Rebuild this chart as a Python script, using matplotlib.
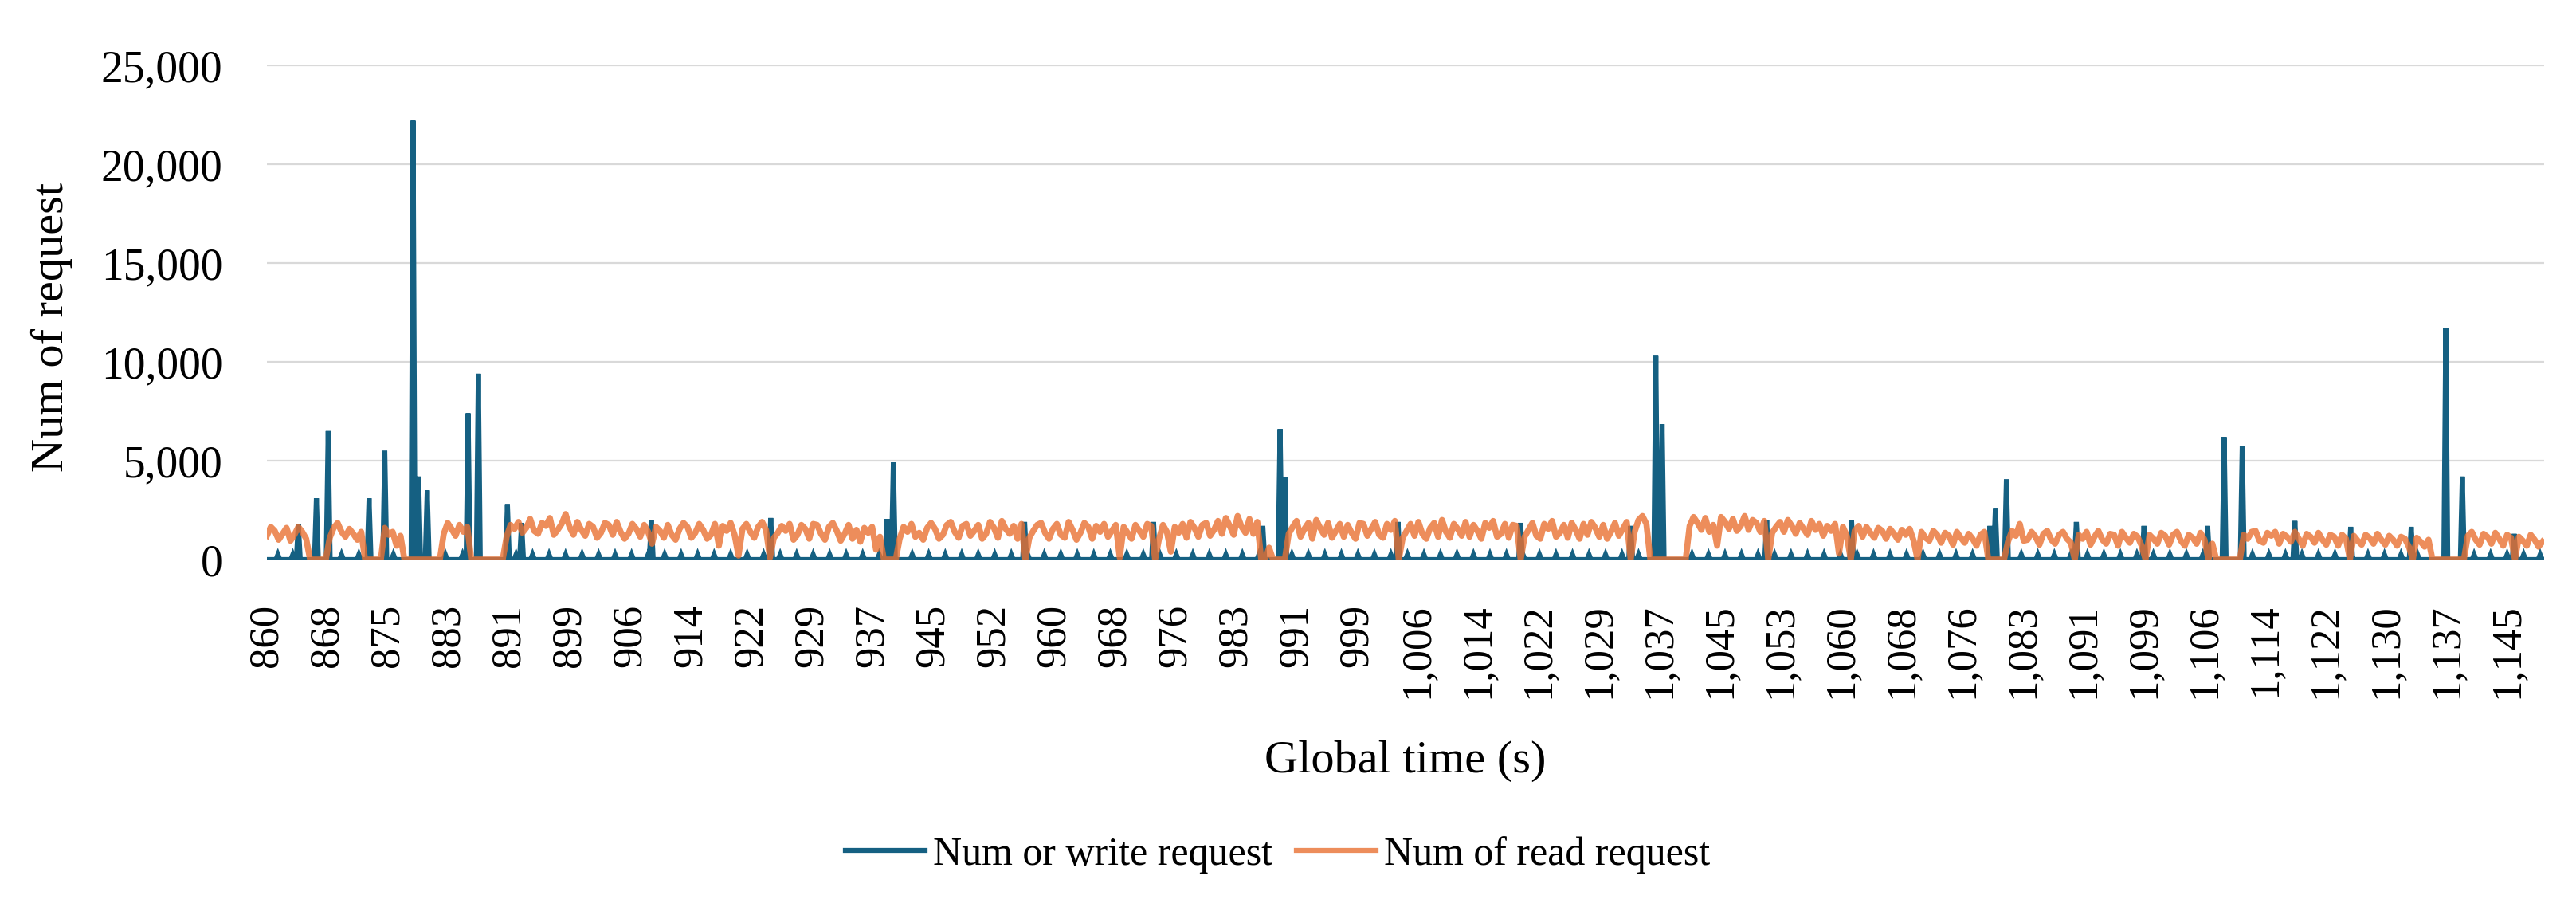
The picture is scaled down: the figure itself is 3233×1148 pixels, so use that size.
"""
Num of write / read requests over global time.
"""
import numpy as np
import matplotlib
matplotlib.use('Agg')
import matplotlib.pyplot as plt
from matplotlib.lines import Line2D
from matplotlib.ticker import FuncFormatter

plt.rcParams['font.family'] = ['Liberation Serif', 'DejaVu Serif']

# read requests, one value every 0.5 s from 860 s
read_start = 860.0
read_step = 0.5
read_vals = [
    1200, 1650, 1450, 1000, 1300, 1600, 950, 1250, 1650, 1400, 1050, 0, 0, 0, 0, 0, 1100, 1600, 1850, 1400,
    1150, 1550, 1300, 1000, 1400, 0, 0, 0, 0, 0, 1600, 1250, 1400, 700, 1200, 0, 0, 0, 0, 0,
    0, 0, 0, 0, 0, 1300, 1850, 1550, 1200, 1750, 1400, 1650, 0, 0, 0, 0, 0, 0, 0, 0,
    0, 1150, 1750, 1550, 1900, 1350, 1600, 2050, 1450, 1300, 1850, 1700, 2100, 1250, 1500, 1800, 2300, 1650, 1250, 1900,
    1500, 1200, 1800, 1650, 1100, 1350, 1850, 1750, 1250, 1900, 1400, 1050, 1300, 1800, 1550, 1150, 1750, 1400, 800, 1650,
    1450, 1100, 1750, 1250, 1000, 1550, 1850, 1650, 1100, 1350, 1800, 1500, 1050, 1250, 1800, 700, 1700, 1450, 1850, 1250,
    200, 1550, 1800, 1400, 1100, 1650, 1900, 1500, 100, 1100, 1350, 1700, 1450, 1800, 1000, 1250, 1750, 1550, 1050, 1800,
    1750, 1300, 1000, 1650, 1850, 1450, 950, 1300, 1750, 1050, 1500, 900, 1600, 1350, 1650, 500, 1150, 0, 0, 0,
    0, 1050, 1650, 1400, 1800, 1150, 1350, 1000, 1600, 1850, 1550, 1050, 1250, 1750, 1900, 1400, 1100, 1700, 1800, 1200,
    1450, 1750, 1050, 1300, 1900, 1600, 1100, 1950, 1550, 1300, 1700, 1050, 1800, 0, 1100, 1450, 1750, 1850, 1350, 1050,
    1550, 1800, 1250, 1100, 1900, 1500, 1000, 1350, 1850, 1650, 1050, 1700, 1400, 1800, 1150, 1450, 1750, 100, 1650, 1350,
    1050, 1750, 1450, 1150, 1800, 1700, 0, 1050, 1750, 1400, 400, 1650, 1350, 1800, 1100, 1900, 1600, 1150, 1750, 1850,
    1200, 1500, 1950, 1300, 2100, 1700, 1250, 2200, 1650, 1350, 2050, 1300, 1900, 0, 0, 600, 0, 0, 0, 0,
    1300, 1650, 1950, 1150, 1550, 1850, 1050, 2000, 1600, 1250, 1850, 1100, 1450, 1800, 1150, 1750, 1350, 1050, 1850, 1800,
    1200, 1550, 1900, 1250, 1100, 1800, 1500, 1950, 0, 1100, 1450, 1800, 1200, 1900, 1300, 1050, 1600, 1850, 1150, 2000,
    1400, 1100, 1800, 1550, 1200, 1900, 1150, 1750, 1450, 1050, 1850, 1600, 1950, 1150, 1300, 1800, 1100, 1750, 1700, 0,
    1150, 1500, 1850, 1200, 1050, 1800, 1550, 1950, 1150, 1350, 1750, 1100, 1850, 1500, 1050, 1800, 1250, 1900, 1600, 1150,
    1750, 1050, 1400, 1850, 1200, 1550, 1900, 0, 1400, 2000, 2200, 1800, 0, 0, 0, 0, 0, 0, 0, 0,
    0, 0, 1700, 2150, 1850, 1500, 2100, 1400, 1750, 700, 2150, 1900, 1550, 2050, 1450, 1700, 2200, 1500, 2000, 1850,
    1400, 1950, 0, 1350, 1650, 1900, 1400, 2000, 1700, 1300, 1850, 1550, 1250, 1950, 1500, 1800, 1200, 1700, 1450, 1800,
    300, 1650, 1200, 0, 1450, 1700, 1150, 1650, 1350, 1100, 1600, 1450, 1050, 1550, 1300, 1000, 1500, 1250, 1550, 950,
    0, 1400, 1100, 950, 1450, 1250, 850, 1350, 1200, 750, 1400, 1100, 850, 1300, 1050, 700, 1250, 1400, 0, 0,
    0, 0, 0, 900, 1450, 1200, 1800, 950, 1000, 1400, 1150, 750, 1300, 1450, 1000, 800, 1250, 1400, 1050, 850,
    0, 1250, 1050, 1400, 750, 1150, 1450, 1000, 800, 1300, 1250, 700, 1400, 1100, 850, 1300, 1150, 700, 0, 1250,
    1050, 800, 1350, 1200, 750, 1250, 1400, 950, 700, 1250, 1100, 800, 1350, 1000, 0, 800, 0, 0, 0, 0,
    0, 0, 0, 1250, 1050, 1400, 1450, 950, 850, 1350, 1200, 1400, 800, 1300, 1150, 900, 1400, 1050, 700, 1300,
    1150, 850, 1350, 1000, 750, 1250, 1150, 700, 1250, 1050, 0, 1200, 950, 750, 1250, 1100, 800, 1300, 1000, 750,
    1200, 1000, 700, 1150, 1050, 650, 0, 1100, 900, 650, 1000, 0, 0, 0, 0, 0, 0, 0, 0, 0,
    1200, 1400, 1000, 750, 1300, 1150, 800, 1350, 1050, 700, 1250, 1100, 0, 1150, 950, 700, 1250, 1000, 650, 900,
]

# write bursts: time (s) and num of requests
spike_t = [864.0, 866.3, 867.8, 873.0, 875.0, 878.6, 879.3, 880.4, 885.6, 886.9,
           890.6, 892.4, 908.9, 924.1, 938.9, 939.7, 956.4, 972.8, 986.7, 988.9,
           989.5, 1003.9, 1019.5, 1033.5, 1036.7, 1037.5, 1050.8, 1061.6, 1079.2, 1079.9,
           1081.3, 1090.2, 1098.8, 1106.9, 1109.0, 1111.3, 1118.0, 1125.1, 1132.8, 1137.2,
           1139.3, 1145.9]
spike_v = [1800, 3100, 6500, 3100, 5500, 22200, 4200, 3500, 7400, 9400,
           2800, 1850, 2000, 2100, 2050, 4900, 1900, 1900, 1700, 6600,
           4150, 1900, 1850, 1700, 10300, 6850, 2000, 2000, 1700, 2600,
           4050, 1900, 1700, 1700, 6200, 5750, 1950, 1650, 1650, 11700,
           4200, 1300]

# small regular write bumps
bump_t = [861.4, 863.3, 869.5, 871.7, 876.1, 882.7, 884.9,
          891.7, 893.8, 895.9, 898.0, 900.1, 902.2, 904.3, 906.4, 908.5, 910.6,
          912.7, 914.8, 916.9, 919.0, 921.1, 923.2, 925.3, 927.4, 929.5, 931.6,
          933.7, 935.8, 937.9, 942.1, 944.2, 946.3, 948.4, 950.5, 952.6, 954.7,
          956.8, 958.9, 961.0, 963.1, 965.2, 967.3, 969.4, 971.5, 973.6, 975.7,
          977.8, 979.9, 982.0, 984.1, 986.2, 990.4, 992.5, 994.6, 996.7, 998.8,
          1000.9, 1003.0, 1005.1, 1007.2, 1009.3, 1011.4, 1013.5, 1015.6, 1017.7,
          1019.8, 1021.9, 1024.0, 1026.1, 1028.2, 1030.3, 1032.4, 1034.5, 1041.3,
          1043.4, 1045.5, 1047.6, 1049.7, 1051.8, 1053.9, 1056.0, 1058.1, 1060.2,
          1062.3, 1064.4, 1066.5, 1068.6, 1070.7, 1072.8, 1074.9, 1077.0, 1083.2,
          1085.3, 1087.4, 1089.5, 1091.6, 1093.7, 1095.8, 1097.9, 1100.0, 1102.1,
          1104.2, 1106.3, 1112.6, 1114.7, 1116.8, 1118.9, 1121.0, 1123.1, 1125.2,
          1127.3, 1129.4, 1131.5, 1133.6, 1140.8, 1142.9, 1145.0, 1147.1, 1149.2]
bump_v = 250

tick_labels = ['860', '868', '875', '883', '891', '899', '906', '914', '922', '929',
               '937', '945', '952', '960', '968', '976', '983', '991', '999', '1,006',
               '1,014', '1,022', '1,029', '1,037', '1,045', '1,053', '1,060', '1,068',
               '1,076', '1,083', '1,091', '1,099', '1,106', '1,114', '1,122', '1,130',
               '1,137', '1,145']

BLUE = '#156082'
ORANGE = '#E97132'


def write_series():
    ev = sorted(list(zip(spike_t, spike_v)) + [(t, bump_v) for t in bump_t])
    xs, ys = [read_start], [0]
    for t, v in ev:
        xs += [t - 0.25, t, t + 0.25]
        ys += [0, v, 0]
    xs.append(read_start + read_step * (len(read_vals) - 1))
    ys.append(0)
    return np.array(xs), np.array(ys)


read_x = read_start + read_step * np.arange(len(read_vals))
write_x, write_y = write_series()

fig = plt.figure(figsize=(32.33, 11.48), dpi=100)
ax = fig.add_axes([0.1036, 0.3885, 0.884, 0.5401])

ax.plot(write_x, write_y, color=BLUE, linewidth=4.5, solid_joinstyle='miter', zorder=3)
ax.plot(read_x, read_vals, color=ORANGE, alpha=0.8, linewidth=5.5, zorder=4)

ax.set_xlim(860, 1149.7)
ax.set_ylim(0, 25000)
ax.set_yticks(np.arange(0, 25001, 5000))
ax.yaxis.set_major_formatter(FuncFormatter(lambda v, p: f'{int(v):,}'))
ax.set_xticks(np.linspace(860, 1145, len(tick_labels)))
ax.set_xticklabels(tick_labels, rotation=90)
ax.tick_params(axis='y', length=0, pad=40, labelsize=40)
ax.tick_params(axis='x', length=0, pad=40, labelsize=38)
ax.grid(axis='y', color='#D9D9D9', linewidth=1.6, zorder=0)
ax.set_axisbelow(True)
for s in ax.spines.values():
    s.set_visible(False)

ax.set_xlabel('Global time (s)', fontsize=42)
ax.xaxis.set_label_coords(0.5, -0.365)
ax.set_ylabel('Num of request', fontsize=42)
ax.yaxis.set_label_coords(-0.0854, 0.47)

handles = [Line2D([], [], color=BLUE, linewidth=4.5),
           Line2D([], [], color=ORANGE, alpha=0.8, linewidth=4.5)]
fig.legend(handles, ['Num or write request', 'Num of read request'],
           loc='center', bbox_to_anchor=(0.496, 0.066), ncol=2, frameon=False,
           fontsize=36, handlelength=2.0, handletextpad=0.2, columnspacing=0.6)

fig.savefig('out.png', dpi=100)
